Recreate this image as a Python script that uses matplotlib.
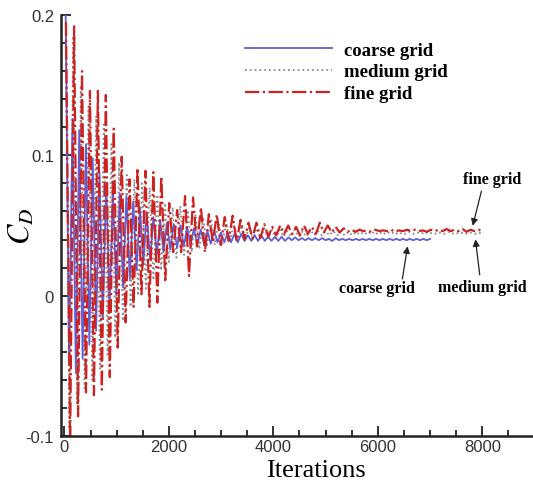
import matplotlib.pyplot as plt
import numpy as np

plt.rcParams['mathtext.fontset'] = 'stix'
plt.rcParams['font.family'] = ['Liberation Sans', 'DejaVu Sans']

# envelope of each drag history
fine_start = (30, 0.195)
fine_troughs = [-0.105, -0.086, -0.069, -0.071, -0.067, -0.058, -0.037, -0.019, -0.008, 0.001,
                -0.008, -0.005, 0.011, 0.031, 0.031, 0.014, 0.035, 0.031, 0.038, 0.036,
                0.039, 0.039, 0.040, 0.041, 0.041, 0.042, 0.043,
                0.044, 0.044, 0.043, 0.044, 0.044, 0.045, 0.045, 0.045, 0.0455, 0.0455,
                0.046, 0.0455, 0.046, 0.046, 0.0455, 0.046, 0.046, 0.046, 0.0455, 0.046,
                0.046, 0.046, 0.046, 0.0455, 0.046, 0.046]
fine_peaks = [0.192, 0.160, 0.146, 0.146, 0.143, 0.119, 0.099, 0.083, 0.091, 0.089,
              0.088, 0.085, 0.066, 0.061, 0.071, 0.070, 0.063, 0.058, 0.058, 0.056,
              0.057, 0.054, 0.052, 0.052, 0.051, 0.049, 0.050,
              0.050, 0.049, 0.050, 0.049, 0.052, 0.050, 0.049, 0.048, 0.047, 0.047,
              0.0465, 0.047, 0.0465, 0.047, 0.0465, 0.047, 0.047, 0.0465, 0.047, 0.047,
              0.0475, 0.047, 0.0475, 0.047, 0.047]
fine_span = (110, 8000)

medium_start = (30, 0.19)
medium_troughs = [-0.095, -0.078, -0.066, -0.060, -0.052, -0.042, -0.030, -0.018, -0.008, 0.000,
                  0.005, 0.011, 0.018, 0.024, 0.027, 0.029, 0.031, 0.033, 0.035, 0.036,
                  0.037, 0.038, 0.039, 0.040, 0.040, 0.041, 0.041,
                  0.041, 0.042, 0.042, 0.042, 0.042, 0.043, 0.043, 0.043, 0.043, 0.043,
                  0.043, 0.0435, 0.0435, 0.0435, 0.0435, 0.044, 0.0435, 0.044, 0.044, 0.044,
                  0.044, 0.044, 0.044, 0.044, 0.044, 0.044, 0.044, 0.044]
medium_peaks = [0.185, 0.150, 0.135, 0.128, 0.122, 0.108, 0.095, 0.086, 0.083, 0.080,
                0.077, 0.072, 0.066, 0.063, 0.064, 0.061, 0.058, 0.056, 0.055, 0.053,
                0.052, 0.051, 0.050, 0.049, 0.048, 0.048, 0.047,
                0.047, 0.046, 0.047, 0.046, 0.047, 0.046, 0.046, 0.046, 0.046, 0.0455,
                0.0455, 0.0455, 0.046, 0.0455, 0.0455, 0.0455, 0.045, 0.0455, 0.045, 0.0455,
                0.045, 0.045, 0.0455, 0.045, 0.045, 0.045, 0.045]
medium_span = (95, 8000)

coarse_start = (25, 0.200)
coarse_troughs = [-0.048, -0.055, -0.045, -0.035, -0.025, -0.016, -0.008, 0.000, 0.006, 0.012,
                  0.018, 0.022, 0.026, 0.029, 0.031, 0.033, 0.034, 0.035, 0.036, 0.036,
                  0.037, 0.037, 0.038, 0.038, 0.038, 0.038, 0.039, 0.039, 0.039, 0.039, 0.039,
                  0.039, 0.039, 0.0395, 0.0395, 0.0395, 0.0395, 0.0395, 0.0395, 0.039, 0.0395,
                  0.0395, 0.0395, 0.0395, 0.0395, 0.0395, 0.0395, 0.0395, 0.0395, 0.0395, 0.0395,
                  0.0395, 0.0395, 0.0395]
coarse_peaks = [0.126, 0.118, 0.108, 0.098, 0.088, 0.080, 0.075, 0.073, 0.071, 0.067,
                0.063, 0.059, 0.056, 0.054, 0.052, 0.051, 0.050, 0.049, 0.048, 0.047,
                0.046, 0.046, 0.045, 0.045, 0.044, 0.044, 0.043, 0.043, 0.043, 0.042, 0.042,
                0.042, 0.0415, 0.0415, 0.041, 0.041, 0.041, 0.041, 0.0405, 0.041, 0.0405,
                0.0405, 0.0405, 0.0405, 0.0405, 0.0405, 0.0405, 0.0405, 0.0405, 0.0405, 0.0405,
                0.0405, 0.0405, 0.0405]
coarse_span = (90, 7000)


def history(start, troughs, peaks, span):
    vals = [start[1]]
    for i in range(len(troughs)):
        vals.append(troughs[i])
        if i < len(peaks):
            vals.append(peaks[i])
    its = np.r_[start[0], np.linspace(span[0], span[1], len(vals) - 1)]
    return its, np.array(vals)


fig = plt.figure(figsize=(5.33, 4.85), dpi=100)
ax = fig.add_axes([61 / 533, 48 / 485, 472 / 533, 421 / 485])

x, y = history(medium_start, medium_troughs, medium_peaks, medium_span)
ax.plot(x, y, color='#8c8c8c', ls=':', lw=1.3, label='medium grid')
x, y = history(coarse_start, coarse_troughs, coarse_peaks, coarse_span)
ax.plot(x, y, color='#5f5fd6', ls='-', lw=1.3, label='coarse grid')
x, y = history(fine_start, fine_troughs, fine_peaks, fine_span)
ax.plot(x, y, color='#cc2222', ls='-.', lw=1.6, label='fine grid')

ax.set_xlim(-65, 8970)
ax.set_ylim(-0.1, 0.2)
ax.set_xticks([0, 2000, 4000, 6000, 8000])
ax.set_xticks(np.arange(0, 9000, 500), minor=True)
ax.set_yticks([-0.1, 0, 0.1, 0.2])
ax.set_yticklabels(['-0.1', '0', '0.1', '0.2'])
ax.set_yticks(np.arange(-0.1, 0.2001, 0.02), minor=True)
for s in ['top', 'right']:
    ax.spines[s].set_visible(False)
for s in ['left', 'bottom']:
    ax.spines[s].set_linewidth(1.8)
    ax.spines[s].set_color('#222222')
ax.tick_params(which='both', direction='in', colors='#222222', labelcolor='#333333',
               labelsize=12, width=1.3)
ax.tick_params(which='major', length=7)
ax.tick_params(which='minor', length=4)
ax.tick_params(axis='x', pad=2)
ax.tick_params(axis='y', pad=5)

ax.set_xlabel('Iterations', family='Liberation Serif', fontsize=19)
ax.xaxis.set_label_coords(0.54, -0.054)
ax.set_ylabel(r'$C_D$', fontsize=22)
ax.yaxis.set_label_coords(-0.052, 0.5)

h, l = ax.get_legend_handles_labels()
order = [1, 0, 2]
fig.legend([h[i] for i in order], [l[i] for i in order], loc='upper left',
           bbox_to_anchor=(236 / 533, 1 - 33 / 485), frameon=False, borderpad=0,
           handlelength=4.6, handletextpad=0.65, labelspacing=0.25,
           prop={'family': 'Liberation Serif', 'weight': 'bold', 'size': 13.5})

lab = dict(family='Liberation Serif', weight='bold', fontsize=11.5, ha='center', va='center')
arr = dict(arrowstyle='-|>', color='#222222', lw=0.9, mutation_scale=10)
ax.text(8186, 0.0829, 'fine grid', **lab)
ax.annotate('', xy=(7803, 0.0479), xytext=(7996, 0.0764), arrowprops=arr)
ax.text(7996, 0.0064, 'medium grid', **lab)
ax.annotate('', xy=(7861, 0.0421), xytext=(7957, 0.0129), arrowprops=arr)
ax.text(5982, 0.0057, 'coarse grid', **lab)
ax.annotate('', xy=(6577, 0.0371), xytext=(6461, 0.0100), arrowprops=arr)

plt.savefig('out.png', dpi=100)
